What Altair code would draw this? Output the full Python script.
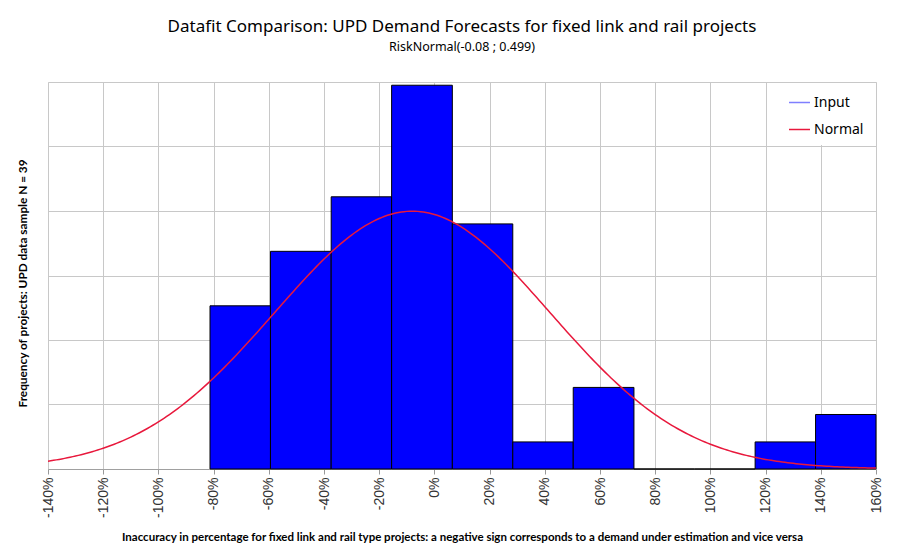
import altair as alt
import pandas as pd

# Histogram bin edges (fraction)
bin_start = [-0.813, -0.594, -0.374, -0.155, 0.065, 0.284, 0.503, 0.723, 0.942, 1.162, 1.381]
bin_end = [-0.594, -0.374, -0.155, 0.065, 0.284, 0.503, 0.723, 0.942, 1.162, 1.381, 1.600]
# Relative frequency (density) of each bin
density = [0.506, 0.675, 0.844, 1.19, 0.760, 0.084, 0.253, 0.0, 0.0, 0.084, 0.169]

# Fitted normal distribution parameters (from subtitle)
MEAN = -0.08
SD = 0.499

x_ticks = [-1.4, -1.2, -1.0, -0.8, -0.6, -0.4, -0.2, 0.0, 0.2, 0.4, 0.6, 0.8, 1.0, 1.2, 1.4, 1.6]
y_grid = [0.0, 0.2, 0.4, 0.6, 0.8, 1.0, 1.2]

bars_df = pd.DataFrame({"start": bin_start, "end": bin_end, "density": density})

W, H = 828, 387
LABEL_FONT = "Lato"
TITLE_FONT = "Noto Sans"

x_scale = alt.Scale(domain=[-1.4, 1.6], nice=False, zero=False)
y_scale = alt.Scale(domain=[0, 1.2], nice=False)

x_axis = alt.Axis(
    values=x_ticks,
    labelExpr="round(datum.value*100) + '%'",
    labelAngle=-90,
    labelFont="Liberation Sans",
    labelFontSize=14,
    labelColor="#333333",
    labelPadding=3,
    tickSize=5,
    tickColor="#999999",
    domainColor="#A0A0A0",
    grid=True,
    gridColor="#C8C8C8",
    title="Inaccuracy in percentage for fixed link and rail type projects: a negative sign corresponds to a demand under estimation and vice versa",
    titleFont=LABEL_FONT,
    titleFontSize=11.5,
    titleFontWeight="bold",
    titleColor="black",
    titlePadding=14,
)

y_axis = alt.Axis(
    values=y_grid,
    labels=False,
    ticks=False,
    domain=False,
    grid=True,
    gridColor="#C8C8C8",
    title="Frequency of projects: UPD data sample N = 39",
    titleFont=LABEL_FONT,
    titleFontSize=11.8,
    titleFontWeight="bold",
    titleColor="black",
    titleX=-20,
    titleY=201,
)

bars = alt.Chart(bars_df).mark_rect(
    fill="#0000FF", stroke="black", strokeWidth=1
).encode(
    x=alt.X("start:Q", scale=x_scale, axis=x_axis),
    x2="end:Q",
    y=alt.Y("density:Q", scale=y_scale, axis=y_axis),
    y2=alt.datum(0),
)

curve = alt.Chart(alt.sequence(start=-1.4, stop=1.6001, step=0.01, as_="x")).transform_calculate(
    y=f"densityNormal(datum.x, {MEAN}, {SD})",
    series="'Normal'",
).mark_line(strokeWidth=1.5, clip=True).encode(
    x=alt.X("x:Q", scale=x_scale),
    y=alt.Y("y:Q", scale=y_scale),
    color=alt.Color(
        "series:N",
        scale=alt.Scale(domain=["Input", "Normal"], range=["#7F7FFF", "#E8183C"]),
        legend=alt.Legend(
            orient="none",
            legendX=732,
            legendY=1,
            title=None,
            fillColor="white",
            padding=8,
            symbolType="stroke",
            symbolSize=440,
            symbolStrokeWidth=1.5,
            labelFont=TITLE_FONT,
            labelFontSize=14,
            labelColor="black",
            labelOffset=3,
            rowPadding=8,
        ),
    ),
)

chart = alt.layer(bars, curve).properties(
    width=W,
    height=H,
    autosize=alt.AutoSizeParams(type="none"),
    padding={"left": 40, "top": 74, "right": 20, "bottom": 75},
    title=alt.TitleParams(
        text="Datafit Comparison: UPD Demand Forecasts for fixed link and rail projects",
        subtitle="RiskNormal(-0.08 ; 0.499)",
        font=TITLE_FONT,
        fontSize=17,
        fontWeight="normal",
        color="black",
        subtitleFont=TITLE_FONT,
        subtitleFontSize=12.5,
        subtitleColor="black",
        subtitlePadding=5,
        anchor="middle",
        offset=28,
    ),
).configure_view(
    fill="#F4F4F4", stroke=None
).configure(background="white")

chart.save("out.html", embed_options={"renderer": "svg", "actions": False})
